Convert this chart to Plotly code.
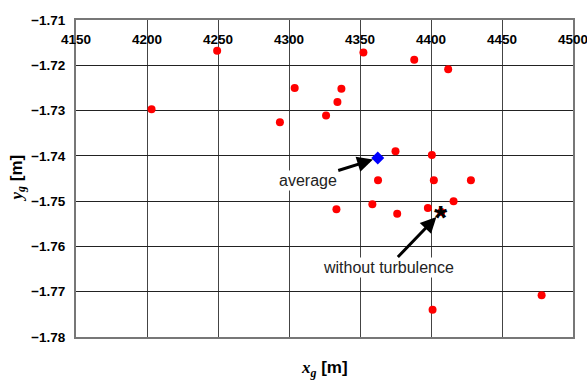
import plotly.graph_objects as go

# Scatter samples (red dots)
xs = [4203.2, 4249.4, 4304.0, 4293.6, 4352.4, 4388.2, 4412.1, 4336.9, 4334.1,
      4326.1, 4375.0, 4400.6, 4362.7, 4402.0, 4428.1, 4333.4, 4358.7, 4376.2,
      4397.8, 4415.9, 4477.9, 4401.1, 4407.2]
ys = [-1.7297, -1.7168, -1.7250, -1.7326, -1.7172, -1.7188, -1.7209, -1.7252, -1.7281,
      -1.7311, -1.7390, -1.7398, -1.7454, -1.7454, -1.7454, -1.7518, -1.7507, -1.7528,
      -1.7515, -1.7500, -1.7708, -1.7740, -1.7524]
avg_x, avg_y = [4362.5], [-1.7405]
nt_x, nt_y = [4407.2], [-1.7524]

x_ticks = [4150, 4200, 4250, 4300, 4350, 4400, 4450, 4500]
y_ticks = [-1.71, -1.72, -1.73, -1.74, -1.75, -1.76, -1.77, -1.78]

font_sans = "Liberation Sans, Arial, sans-serif"

fig = go.Figure()
fig.add_trace(go.Scatter(x=xs, y=ys, mode="markers",
                         marker=dict(color="#ff0000", size=8), showlegend=False))
fig.add_trace(go.Scatter(x=avg_x, y=avg_y, mode="markers",
                         marker=dict(color="#0000ff", size=10, symbol="diamond"), showlegend=False))

fig.update_layout(
    width=587, height=381,
    margin=dict(l=76, r=14, t=20, b=44),
    paper_bgcolor="white", plot_bgcolor="white",
    font=dict(family=font_sans, color="black"),
    xaxis=dict(range=[4150, 4500], tickvals=x_ticks, side="top",
               ticklabelposition="outside", ticks="", ticklabelstandoff=-31,
               ticklabeloverflow="allow", automargin=False,
               tickfont=dict(size=13.5, family=font_sans, weight="bold", color="black"),
               showgrid=True, gridcolor="#444", gridwidth=1, zeroline=False,
               showline=True, linecolor="#777", linewidth=2, mirror=True),
    yaxis=dict(range=[-1.78, -1.71], tickvals=y_ticks, tickformat=".2f",
               ticks="", ticklabelstandoff=6, automargin=False,
               ticklabeloverflow="allow",
               tickfont=dict(size=13.5, family=font_sans, weight="bold", color="black"),
               showgrid=True, gridcolor="#222", gridwidth=1, zeroline=False,
               showline=True, linecolor="#777", linewidth=2, mirror=True),
)

# "without turbulence" result marker: bold asterisk glyph
fig.add_annotation(x=nt_x[0], y=nt_y[0], xref="x", yref="y", text="<b>*</b>",
                   showarrow=False, yshift=-5,
                   font=dict(size=34, family=font_sans, color="black"))

fig.add_annotation(x=avg_x[0], y=avg_y[0], xref="x", yref="y",
                   text="average", ax=-70, ay=22, axref="pixel", ayref="pixel",
                   showarrow=True, arrowhead=2, arrowsize=1.05, arrowwidth=3, arrowcolor="black",
                   standoff=5, bgcolor="white", font=dict(size=16, color="#222", family=font_sans))
fig.add_annotation(x=nt_x[0], y=nt_y[0], xref="x", yref="y",
                   text="without turbulence", ax=-53, ay=55, axref="pixel", ayref="pixel",
                   showarrow=True, arrowhead=2, arrowsize=1.05, arrowwidth=3, arrowcolor="black",
                   standoff=7, bgcolor="white", font=dict(size=16, color="#222", family=font_sans))

fig.add_annotation(xref="paper", yref="paper", x=0.5, y=0, yshift=-32, yanchor="middle",
                   showarrow=False,
                   text="<span style='font-family:Liberation Serif'><b><i>x</i></b><sub><b><i>g</i></b></sub></span> <b>[m]</b>",
                   font=dict(size=17, family=font_sans, color="black"))
fig.add_annotation(xref="paper", yref="paper", x=0, xshift=-59, y=0.5, xanchor="center",
                   textangle=-90, showarrow=False,
                   text="<span style='font-family:Liberation Serif'><b><i>y</i></b><sub><b><i>g</i></b></sub></span> <b>[m]</b>",
                   font=dict(size=17, family=font_sans, color="black"))

fig.write_html("out.html")
